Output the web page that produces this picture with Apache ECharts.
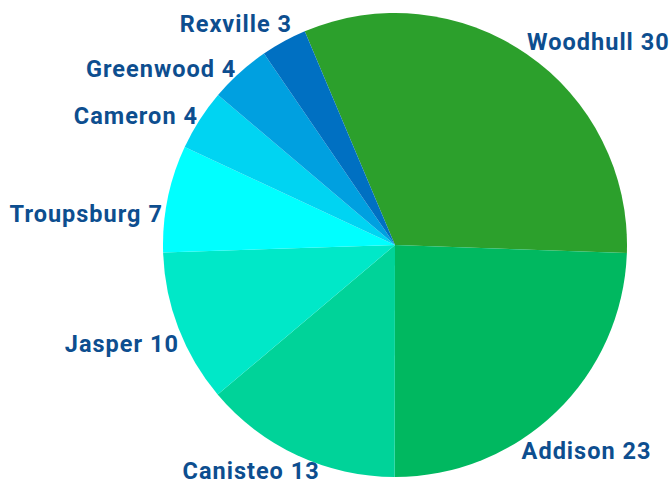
<!DOCTYPE html>
<html lang="en">
<head>
  <meta charset="UTF-8">
  <title>Pie</title>
  <script src="https://cdn.jsdelivr.net/npm/echarts@6/dist/echarts.min.js"></script>
  <style>
    html, body { margin: 0; padding: 0; background: #fff; }
    #main { width: 672px; height: 485px; }
    /* labels in the source are set a little wide */
    #main text { letter-spacing: 1px; }
  </style>
</head>
<body>
  <div id="main"></div>
  <script>
  const towns = ['Woodhull', 'Addison', 'Canisteo', 'Jasper', 'Troupsburg', 'Cameron', 'Greenwood', 'Rexville'];
  const counts = [30, 23, 13, 10, 7, 4, 4, 3];
  const colors = ['#2ca02c', '#00b860', '#00d399', '#00e8c8', '#00ffff', '#00d4f2', '#00a0e0', '#0070c2'];
  // small nudges so the labels sit where the source put them
  const labelNudge = [[-4, -5], [-40, 33], [26, 8], [8, 13], [3, 17], [5, 0], [2, 2], [12, -10]];

  const myChart = echarts.init(document.getElementById('main'), null, { renderer: 'svg' });

  myChart.setOption({
    animation: false,
    series: [{
      type: 'pie',
      center: [395, 245],
      radius: 232,
      startAngle: 112.9,
      avoidLabelOverlap: false,
      data: towns.map((t, i) => ({ name: t, value: counts[i], itemStyle: { color: colors[i] } })),
      itemStyle: { borderWidth: 0 },
      label: {
        show: true,
        position: 'outside',
        formatter: '{b} {c}',
        fontFamily: 'Roboto',
        fontWeight: 'bold',
        fontSize: 23.5,
        lineHeight: 22,
        color: '#0d4e8f',
        distanceToLabelLine: 0,
        overflow: 'none'
      },
      labelLine: { show: false, length: 8, length2: 0 },
      labelLayout: (p) => ({ dx: labelNudge[p.dataIndex][0], dy: labelNudge[p.dataIndex][1] }),
      emphasis: { disabled: true }
    }]
  });
  </script>
</body>
</html>
